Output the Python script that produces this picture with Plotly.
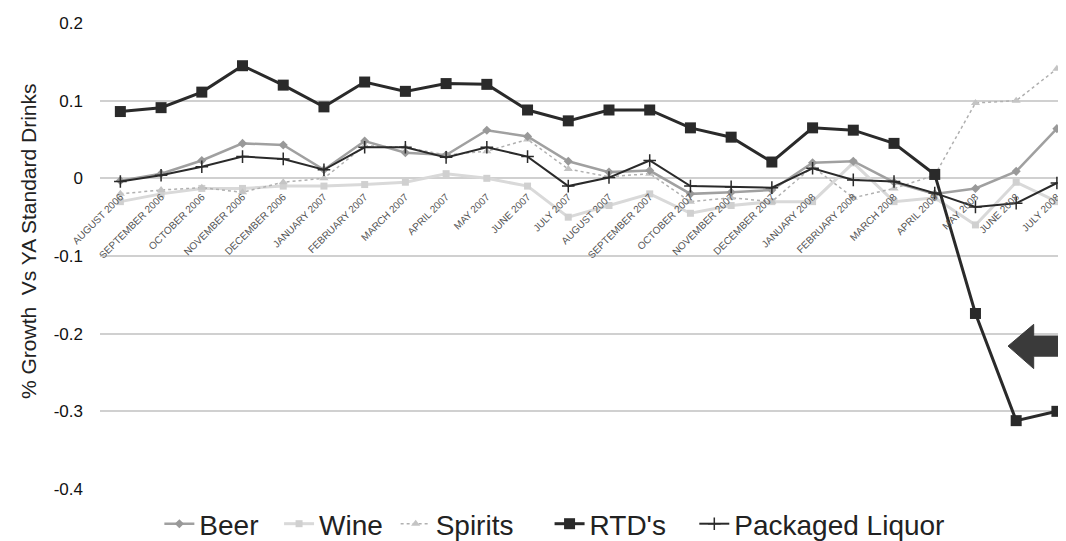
import plotly.graph_objects as go

months = ["AUGUST 2006", "SEPTEMBER 2006", "OCTOBER 2006", "NOVEMBER 2006", "DECEMBER 2006",
          "JANUARY 2007", "FEBRUARY 2007", "MARCH 2007", "APRIL 2007", "MAY 2007", "JUNE 2007",
          "JULY 2007", "AUGUST 2007", "SEPTEMBER 2007", "OCTOBER 2007", "NOVEMBER 2007",
          "DECEMBER 2007", "JANUARY 2008", "FEBRUARY 2008", "MARCH 2008", "APRIL 2008",
          "MAY 2008", "JUNE 2008", "JULY 2008"]

beer = [-0.003, 0.006, 0.023, 0.045, 0.043, 0.011, 0.048, 0.033, 0.030, 0.062, 0.054, 0.022,
        0.008, 0.010, -0.020, -0.018, -0.015, 0.020, 0.022, -0.005, -0.020, -0.013, 0.009, 0.064]
wine = [-0.030, -0.020, -0.013, -0.013, -0.010, -0.010, -0.008, -0.005, 0.006, 0.000, -0.010, -0.050,
        -0.035, -0.020, -0.045, -0.035, -0.030, -0.030, 0.020, -0.030, -0.025, -0.060, -0.005, -0.030]
spirits = [-0.020, -0.015, -0.012, -0.018, -0.005, 0.000, 0.042, 0.040, 0.030, 0.035, 0.050, 0.012,
           0.002, 0.006, -0.030, -0.025, -0.030, 0.015, -0.025, -0.013, 0.004, 0.097, 0.100, 0.141]
rtds = [0.086, 0.091, 0.111, 0.145, 0.120, 0.092, 0.124, 0.112, 0.122, 0.121, 0.088, 0.074,
        0.088, 0.088, 0.065, 0.053, 0.021, 0.065, 0.062, 0.045, 0.005, -0.174, -0.312, -0.300]
packaged = [-0.004, 0.004, 0.015, 0.028, 0.025, 0.011, 0.040, 0.040, 0.027, 0.040, 0.028, -0.010,
            0.001, 0.023, -0.010, -0.011, -0.012, 0.013, -0.002, -0.004, -0.019, -0.037, -0.032, -0.006]

y_ticks = [0.2, 0.1, 0, -0.1, -0.2, -0.3, -0.4]
y_tick_text = ["0.2", "0.1", "0", "-0.1", "-0.2", "-0.3", "-0.4"]
y_title = "% Growth  Vs YA Standard Drinks"

NB = "\u00a0"  # non-breaking space used to widen legend gaps

fig = go.Figure()
fig.add_trace(go.Scatter(x=months, y=wine, name="Wine" + NB, mode="lines+markers",
                         line=dict(color="#d9d9d9", width=3),
                         marker=dict(symbol="square", size=7, color="#d0d0d0")))
fig.add_trace(go.Scatter(x=months, y=spirits, name="Spirits" + NB * 4, mode="lines+markers",
                         line=dict(color="#b0b0b0", width=1.5, dash="dot"),
                         marker=dict(symbol="triangle-up", size=8, color="#c4c4c4")))
fig.add_trace(go.Scatter(x=months, y=beer, name="Beer" + NB * 2, mode="lines+markers",
                         line=dict(color="#a0a0a0", width=2.5),
                         marker=dict(symbol="diamond", size=7, color="#999999")))
fig.add_trace(go.Scatter(x=months, y=packaged, name="Packaged Liquor", mode="lines+markers",
                         line=dict(color="#2a2a2a", width=2),
                         marker=dict(symbol="cross-thin", size=9,
                                     line=dict(color="#2a2a2a", width=1.5))))
fig.add_trace(go.Scatter(x=months, y=rtds, name="RTD's" + NB * 3, mode="lines+markers",
                         line=dict(color="#2a2a2a", width=3),
                         marker=dict(symbol="square", size=11, color="#2a2a2a")))

# block arrow on the right
arrow_path = ("M 21.8,-0.216 L 22.43,-0.188 L 22.43,-0.203 L 23.25,-0.203 "
              "L 23.25,-0.229 L 22.43,-0.229 L 22.43,-0.245 Z")
fig.add_shape(type="path", path=arrow_path, xref="x", yref="y",
              fillcolor="#3a3a3a", line=dict(color="#3a3a3a", width=1))

fig.add_annotation(text=y_title, textangle=-90, xref="paper", yref="paper",
                   x=-0.074, y=0.532, xanchor="center", yanchor="middle", showarrow=False,
                   font=dict(size=21, color="#222"))

fig.update_layout(
    width=1066, height=541,
    margin=dict(l=92, r=0, t=15, b=58),
    paper_bgcolor="white", plot_bgcolor="white",
    font=dict(family="Liberation Sans, Arial, sans-serif", color="#222"),
    showlegend=True,
    legend=dict(orientation="h", x=0.467, xanchor="center", y=-0.076, yanchor="middle",
                font=dict(size=28, color="#222"), traceorder="normal",
                itemwidth=30),
    xaxis=dict(type="category", range=[-0.5, 23.42], showgrid=False, zeroline=False,
               showline=False, ticks="", tickangle=-45, ticklabelstandoff=10,
               tickfont=dict(size=10, color="#555"),
               anchor="free", position=0.6667, automargin=False),
    yaxis=dict(range=[-0.4, 0.2], tickvals=y_ticks, ticktext=y_tick_text,
               showgrid=True, gridcolor="#d0d0d0", gridwidth=1.5, zeroline=False,
               showline=False, ticks="", ticklabelstandoff=16,
               tickfont=dict(size=17, color="#111"),
               automargin=False),
)

# legend order as in reference
order = ["Beer", "Wine", "Spirits", "RTD's", "Packaged Liquor"]
for t in fig.data:
    t.legendrank = order.index(t.name.replace(NB, "")) + 1

fig.write_html("out.html")
